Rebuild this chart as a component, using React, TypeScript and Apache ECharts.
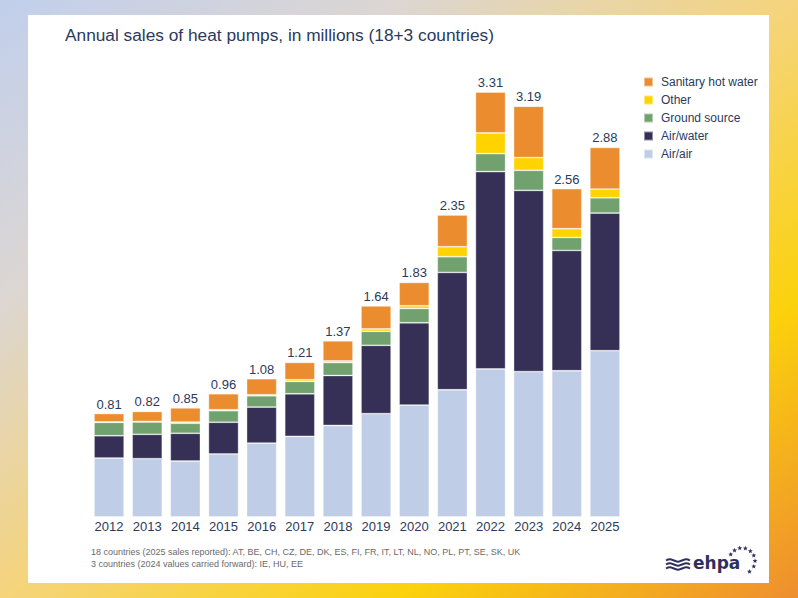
import React, { useEffect, useRef } from 'react';
import * as echarts from 'echarts';

const years = ['2012', '2013', '2014', '2015', '2016', '2017', '2018', '2019', '2020', '2021', '2022', '2023', '2024', '2025'];
const airAir = [0.459, 0.454, 0.436, 0.491, 0.576, 0.628, 0.713, 0.805, 0.872, 0.991, 1.153, 1.132, 1.139, 1.295];
const airWater = [0.174, 0.19, 0.216, 0.247, 0.28, 0.332, 0.389, 0.532, 0.641, 0.914, 1.537, 1.412, 0.937, 1.072];
const groundSource = [0.104, 0.096, 0.078, 0.09, 0.088, 0.096, 0.101, 0.109, 0.111, 0.122, 0.14, 0.156, 0.101, 0.119];
const other = [0.004, 0.004, 0.009, 0.007, 0.008, 0.013, 0.013, 0.019, 0.021, 0.078, 0.161, 0.099, 0.068, 0.068];
const sanitaryHotWater = [0.065, 0.078, 0.111, 0.125, 0.125, 0.135, 0.156, 0.179, 0.182, 0.247, 0.319, 0.4, 0.312, 0.324];
const totals = ['0.81', '0.82', '0.85', '0.96', '1.08', '1.21', '1.37', '1.64', '1.83', '2.35', '3.31', '3.19', '2.56', '2.88'];

const TEXT = '#2b3a5c';
const FONT = '"Liberation Sans", Arial, sans-serif';
const LOGO = '#2e2f5e';

function starPoints(cx: number, cy: number, R: number, r: number): number[][] {
  const pts: number[][] = [];
  for (let k = 0; k < 10; k++) {
    const rad = -Math.PI / 2 + (k * Math.PI) / 5;
    const rr = k % 2 === 0 ? R : r;
    pts.push([cx + rr * Math.cos(rad), cy + rr * Math.sin(rad)]);
  }
  return pts;
}

export default function App() {
  const ref = useRef<HTMLDivElement>(null);
  useEffect(() => {
    const chart = echarts.init(ref.current!, null, { renderer: 'svg' });
    const defs = [
      { name: 'Air/air', data: airAir, color: '#c0cde7' },
      { name: 'Air/water', data: airWater, color: '#363056' },
      { name: 'Ground source', data: groundSource, color: '#70a16e' },
      { name: 'Other', data: other, color: '#ffd300' },
      { name: 'Sanitary hot water', data: sanitaryHotWater, color: '#eb8d2f' },
    ];
    const series: any[] = defs.map((d, i) => ({
      name: d.name,
      type: 'bar',
      stack: 'total',
      data: d.data,
      barCategoryGap: '21%',
      itemStyle: { color: d.color, borderColor: 'rgba(255,255,255,0.45)', borderWidth: 0.8 },
      label: i === defs.length - 1 ? {
        show: true,
        position: 'top',
        distance: 3,
        formatter: (p: any) => totals[p.dataIndex],
        color: TEXT,
        fontSize: 13,
        fontFamily: FONT,
      } : { show: false },
    }));

    const angles = [-150, -125, -100, -75, -50, -25, 0, 25, 55];
    const stars: any[] = angles.map((a) => {
      const r = 13;
      const rad = (a * Math.PI) / 180;
      return {
        type: 'polygon',
        shape: { points: starPoints(742 + r * Math.cos(rad), 561 + r * Math.sin(rad), 2.6, 1.1) },
        style: { fill: LOGO },
      };
    });
    const waves: any[] = [560.5, 564.5, 568.5].map((y) => ({
      type: 'polyline',
      shape: {
        points: [[666, y], [670, y - 1.3], [674, y], [678, y + 1.3], [682, y], [686, y - 1.3], [690, y]],
        smooth: 0.5,
      },
      style: { stroke: LOGO, lineWidth: 2, fill: null },
    }));

    chart.setOption({
      animation: false,
      title: {
        text: 'Annual sales of heat pumps, in millions (18+3 countries)',
        left: 65,
        top: 26,
        padding: 0,
        textStyle: { color: TEXT, fontSize: 17.3, fontWeight: 'normal', fontFamily: FONT },
      },
      legend: {
        orient: 'vertical',
        left: 643,
        top: 76,
        padding: 0,
        icon: 'rect',
        itemWidth: 9,
        itemHeight: 9,
        itemGap: 6,
        data: ['Sanitary hot water', 'Other', 'Ground source', 'Air/water', 'Air/air'],
        textStyle: { color: TEXT, fontSize: 12, fontFamily: FONT, lineHeight: 12, padding: [0, 0, 0, 3] },
      },
      grid: { left: 90, right: 174, top: 67.6, bottom: 81 },
      xAxis: {
        type: 'category',
        data: years,
        axisLine: { show: false },
        axisTick: { show: false },
        axisLabel: { color: TEXT, fontSize: 13, fontFamily: FONT, margin: 3 },
      },
      yAxis: { type: 'value', min: 0, max: 3.5, show: false, splitLine: { show: false } },
      series,
      graphic: [
        {
          type: 'text',
          left: 91,
          top: 546,
          style: {
            text: '18 countries (2025 sales reported): AT, BE, CH, CZ, DE, DK, ES, FI, FR, IT, LT, NL, NO, PL, PT, SE, SK, UK\n3 countries (2024 values carried forward): IE, HU, EE',
            fill: '#6a6a6a',
            fontSize: 9,
            lineHeight: 12,
            fontFamily: FONT,
          },
        },
        {
          type: 'text',
          x: 693,
          y: 563,
          style: { text: 'ehpa', fill: LOGO, fontSize: 17, fontWeight: 'bold', fontFamily: 'DejaVu Sans', verticalAlign: 'middle' },
        },
        ...waves,
        ...stars,
      ],
    });
    return () => chart.dispose();
  }, []);
  return (
    <div
      style={{
        position: 'fixed',
        left: 0,
        top: 0,
        width: 798,
        height: 598,
        background: 'linear-gradient(to bottom right, #c1cfec 0%, #dcd6d3 25%, #f5d47c 50%, #fbd20c 75%, #ee8e2f 100%)',
      }}
    >
      <div style={{ position: 'absolute', left: 28, top: 15, width: 741, height: 568, background: '#ffffff' }} />
      <div ref={ref} style={{ position: 'absolute', left: 0, top: 0, width: 798, height: 598 }} />
    </div>
  );
}
